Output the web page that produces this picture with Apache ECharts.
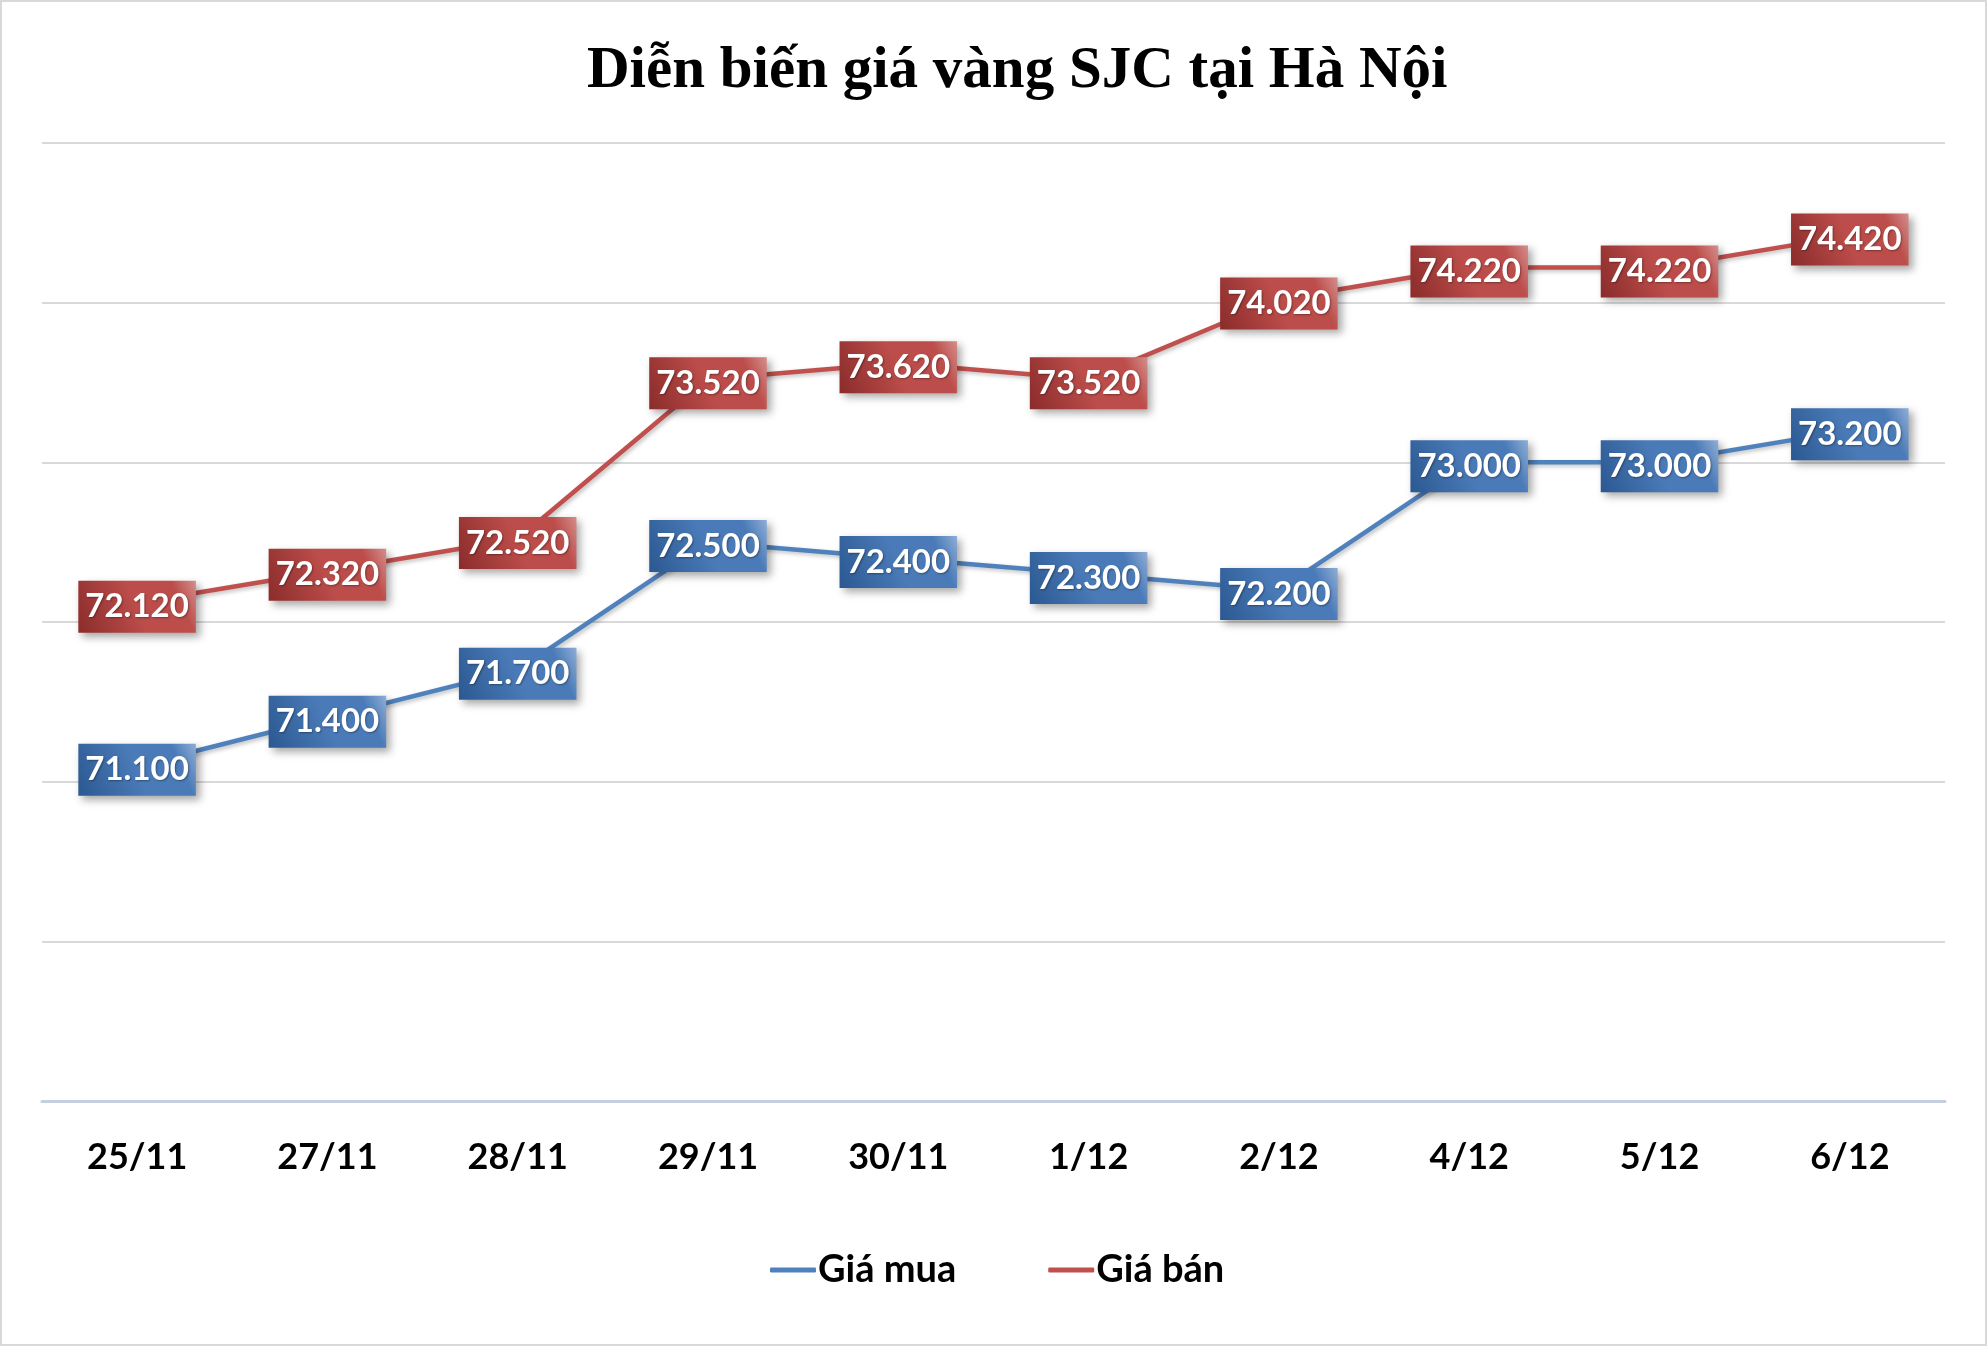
<!DOCTYPE html>
<html>
<head>
<meta charset="utf-8">
<script src="https://cdn.jsdelivr.net/npm/echarts@6/dist/echarts.min.js"></script>
<style>
html,body{margin:0;padding:0;background:#fff;}
#c{width:1987px;height:1346px;}
</style>
</head>
<body>
<div id="c"></div>
<script>
const titleText = 'Diễn biến giá vàng SJC tại Hà Nội';
const categories = ['25/11','27/11','28/11','29/11','30/11','1/12','2/12','4/12','5/12','6/12'];
const buyName = 'Giá mua';
const sellName = 'Giá bán';
const buyValues = [71.1, 71.4, 71.7, 72.5, 72.4, 72.3, 72.2, 73.0, 73.0, 73.2];
const sellValues = [72.12, 72.32, 72.52, 73.52, 73.62, 73.52, 74.02, 74.22, 74.22, 74.42];
const yMin = 69, yMax = 75, yInterval = 1;

const chart = echarts.init(document.getElementById('c'));

function grad(dark, mid, light){
  return new echarts.graphic.LinearGradient(0, 1, 1, 0, [
    {offset: 0, color: dark},
    {offset: 0.5, color: mid},
    {offset: 0.82, color: mid},
    {offset: 1, color: light}
  ]);
}

function labelCfg(dark, mid, light){
  return {
    show: true,
    position: [0, 4],
    align: 'center',
    verticalAlign: 'middle',
    formatter: p => p.value.toFixed(3),
    color: '#fff',
    fontFamily: 'Lato',
    fontWeight: 'bold',
    fontSize: 33,
    lineHeight: 36,
    padding: [9, 7, 7, 7],
    backgroundColor: grad(dark, mid, light),
    shadowColor: 'rgba(0,0,0,0.35)',
    shadowBlur: 8,
    shadowOffsetX: 4,
    shadowOffsetY: 4,
    textShadowColor: 'rgba(0,0,0,0.35)',
    textShadowBlur: 2,
    textShadowOffsetX: 1,
    textShadowOffsetY: 1
  };
}

const option = {
  backgroundColor: '#fff',
  animation: false,
  title: {
    text: titleText,
    left: 582,
    top: 37,
    textStyle: {
      fontFamily: 'Liberation Serif',
      fontWeight: 'bold',
      fontSize: 59,
      color: '#000'
    }
  },
  graphic: [{
    type: 'rect',
    shape: {x: 1, y: 1, width: 1985, height: 1344},
    style: {fill: 'none', stroke: '#d9d9d9', lineWidth: 2},
    silent: true
  }],
  legend: {
    left: 765,
    top: 1246,
    icon: 'roundRect',
    itemWidth: 46,
    itemHeight: 5,
    itemGap: 92,
    textStyle: {
      fontFamily: 'Lato',
      fontWeight: 'bold',
      fontSize: 38,
      color: '#000',
      padding: [0, 0, 0, -3]
    },
    data: [buyName, sellName]
  },
  grid: {left: 42, right: 42, top: 143, bottom: 245, containLabel: false},
  xAxis: {
    type: 'category',
    data: categories,
    boundaryGap: true,
    axisLine: {show: true, lineStyle: {color: '#c5d0de', width: 3}},
    axisTick: {show: false},
    axisLabel: {
      margin: 38,
      fontFamily: 'Lato',
      fontWeight: 'bold',
      fontSize: 36,
      color: '#000'
    }
  },
  yAxis: {
    type: 'value',
    min: yMin,
    max: yMax,
    interval: yInterval,
    axisLine: {show: false},
    axisTick: {show: false},
    axisLabel: {show: false},
    splitLine: {lineStyle: {color: '#d9d9d9', width: 2}}
  },
  series: [
    {
      name: buyName,
      type: 'line',
      data: buyValues,
      symbol: 'circle',
      symbolSize: 0.1,
      showSymbol: true,
      z: 3,
      itemStyle: {color: '#4f81bd'},
      lineStyle: {color: '#4f81bd', width: 4.5, shadowColor: 'rgba(0,0,0,0.25)', shadowBlur: 4, shadowOffsetX: 2, shadowOffsetY: 2},
      label: labelCfg('#2b5891', '#4a7bb8', '#8fadd6'),
      labelLayout: {hideOverlap: false}
    },
    {
      name: sellName,
      type: 'line',
      data: sellValues,
      symbol: 'circle',
      symbolSize: 0.1,
      showSymbol: true,
      z: 3,
      itemStyle: {color: '#c0504d'},
      lineStyle: {color: '#c0504d', width: 4.5, shadowColor: 'rgba(0,0,0,0.25)', shadowBlur: 4, shadowOffsetX: 2, shadowOffsetY: 2},
      label: labelCfg('#8a2c2b', '#bc4d4a', '#d48e8c'),
      labelLayout: {hideOverlap: false}
    }
  ]
};
chart.setOption(option);
</script>
</body>
</html>
